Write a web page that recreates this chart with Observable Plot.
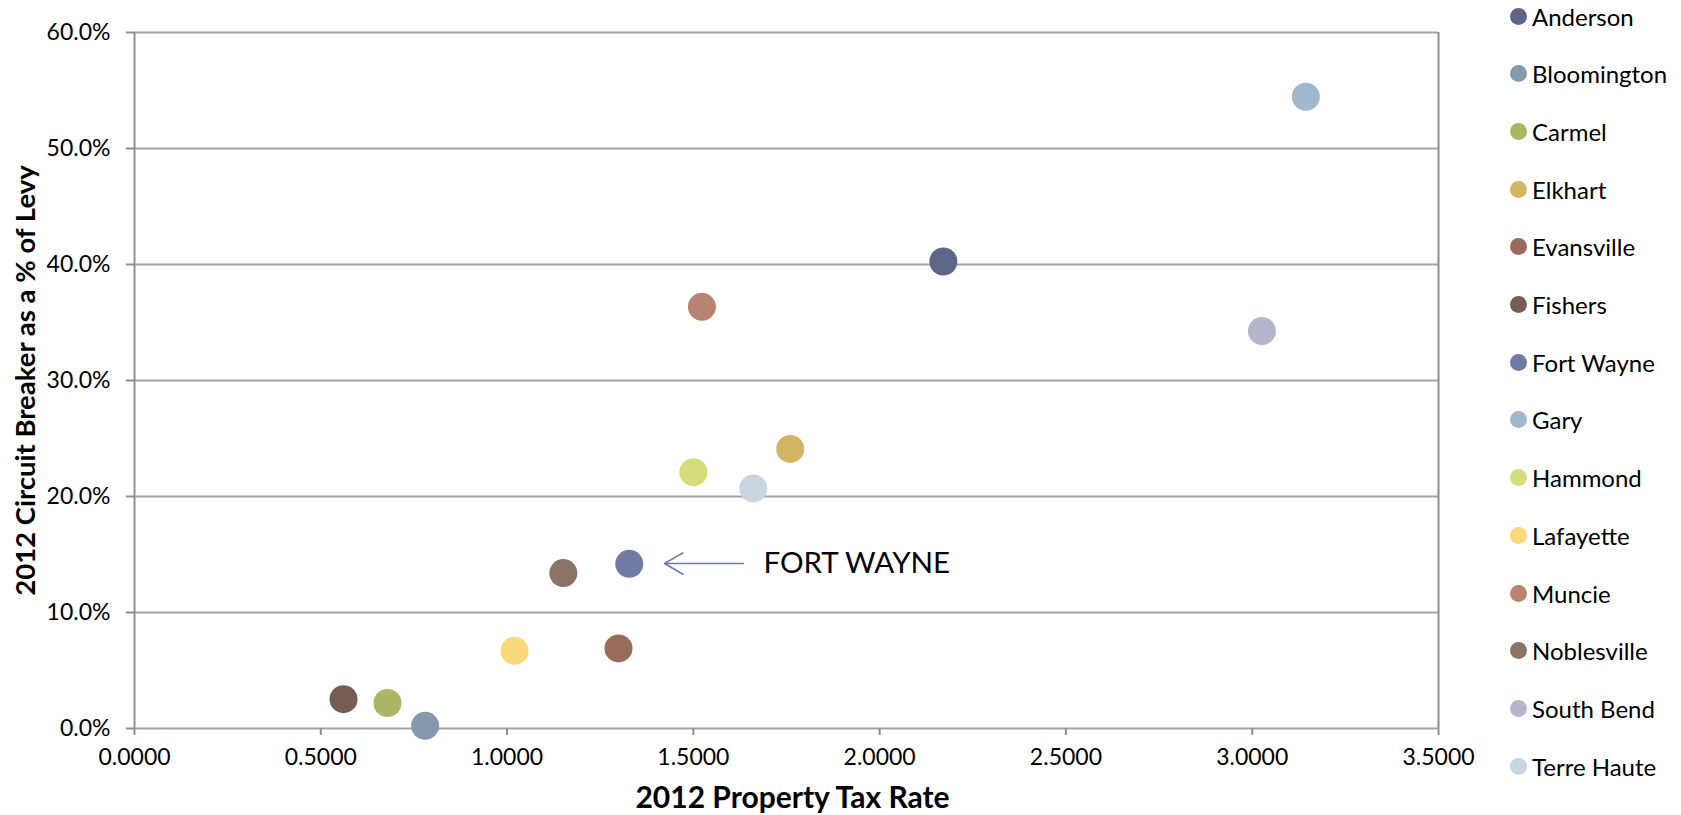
<!DOCTYPE html>
<html>
<head>
<meta charset="utf-8">
<script src="https://cdn.jsdelivr.net/npm/d3@7"></script>
<script src="https://cdn.jsdelivr.net/npm/@observablehq/plot@0.6"></script>
<style>
  html, body { margin: 0; padding: 0; background: #fff; }
  #wrap { position: relative; width: 1681px; height: 815px; }
  #legend { position: absolute; left: 1510px; top: 0; font-family: Lato, "Open Sans", sans-serif; font-size: 24px; color: #000; }
  .row { position: absolute; left: 0; height: 30px; display: flex; align-items: center; white-space: nowrap; }
  .sw { width: 17px; height: 17px; border-radius: 50%; margin-right: 5px; flex: none; }
</style>
</head>
<body>
<div id="wrap"><div id="legend"></div></div>
<script>
const cities = ["Anderson","Bloomington","Carmel","Elkhart","Evansville","Fishers","Fort Wayne","Gary","Hammond","Lafayette","Muncie","Noblesville","South Bend","Terre Haute"];
const taxRate = [2.171, 0.780, 0.679, 1.760, 1.299, 0.561, 1.328, 3.144, 1.500, 1.020, 1.523, 1.151, 3.026, 1.661];
const cbShare = [0.4026, 0.0023, 0.022, 0.241, 0.069, 0.0253, 0.142, 0.5446, 0.221, 0.067, 0.3635, 0.134, 0.3426, 0.207];
const colors = ["#5d6688","#8499ab","#adb564","#d2b462","#986b5a","#765e55","#717aa2","#9fb8ce","#d5dc7c","#fad97a","#b88370","#8c7368","#b4b6cb","#c9d5e1"];
const xTicks = [0, 0.5, 1.0, 1.5, 2.0, 2.5, 3.0, 3.5];
const yTicks = [0, 0.1, 0.2, 0.3, 0.4, 0.5, 0.6];
const xTitle = "2012 Property Tax Rate";
const yTitle = "2012 Circuit Breaker as a % of Levy";
const annotation = [{label: "FORT WAYNE", x1: 1.634, x2: 1.4225, y: 0.1422, tx: 1.688}];

const data = cities.map((c, i) => ({city: c, x: taxRate[i], y: cbShare[i]}));

const chart = Plot.plot({
  width: 1681,
  height: 815,
  marginLeft: 134,
  marginRight: 243,
  marginTop: 32,
  marginBottom: 87,
  style: {fontFamily: "Lato, 'Open Sans', sans-serif", fontSize: "23px", color: "#000", background: "transparent"},
  x: {domain: [0, 3.5], label: null},
  y: {domain: [0, 0.6], label: null},
  color: {domain: cities, range: colors},
  marks: [
    Plot.gridY(yTicks, {stroke: "#a3a3a3", strokeOpacity: 1, strokeWidth: 1.8}),
    Plot.ruleX([0, 3.5], {stroke: "#8e8e8e", strokeWidth: 2}),
    Plot.axisX({ticks: xTicks, tickFormat: d3.format(".4f"), tickSize: 7, tickPadding: 13, stroke: "#8e8e8e", strokeWidth: 2, fill: "#000", label: null}),
    Plot.axisY({ticks: yTicks, tickFormat: d3.format(".1%"), tickSize: 8, tickPadding: 16, stroke: "#8e8e8e", strokeWidth: 2, fill: "#000", label: null}),
    Plot.text([xTitle], {frameAnchor: "bottom", dx: 6, dy: 70, fontSize: 30, fontWeight: "bold", fill: "#000", textAnchor: "middle", lineAnchor: "middle"}),
    Plot.text([yTitle], {frameAnchor: "left", rotate: -90, dx: -108, dy: 0, fontSize: 27.5, fontWeight: "bold", fill: "#000", textAnchor: "middle", lineAnchor: "middle"}),
    Plot.dot(data, {x: "x", y: "y", r: 14, fill: "city", stroke: null}),
    Plot.arrow(annotation, {x1: "x1", x2: "x2", y1: "y", y2: "y", stroke: "#717aa2", strokeWidth: 1.6, headLength: 20, headAngle: 60, bend: 0}),
    Plot.text(annotation, {x: "tx", y: "y", text: "label", textAnchor: "start", lineAnchor: "middle", fontSize: 29.5, fill: "#000"})
  ]
});
document.getElementById("wrap").prepend(chart);

const legend = d3.select("#legend");
cities.forEach((c, i) => {
  const row = legend.append("div").attr("class", "row").style("top", (16 + i * 57.7 - 15) + "px");
  row.append("div").attr("class", "sw").style("background", colors[i]);
  row.append("span").text(c);
});
</script>
</body>
</html>
